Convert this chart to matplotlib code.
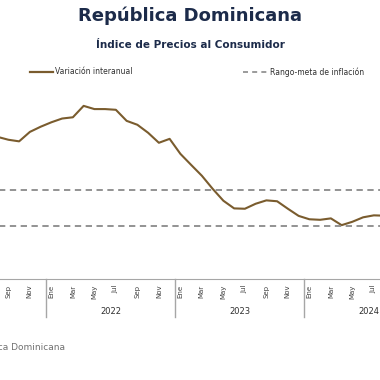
import matplotlib.pyplot as plt

# monthly interannual CPI change, Aug 2021 .. Aug 2024 (%)
MONTHS = ["Ago", "Sep", "Oct", "Nov", "Dic",
          "Ene", "Feb", "Mar", "Abr", "May", "Jun", "Jul", "Ago", "Sep", "Oct", "Nov", "Dic",
          "Ene", "Feb", "Mar", "Abr", "May", "Jun", "Jul", "Ago", "Sep", "Oct", "Nov", "Dic",
          "Ene", "Feb", "Mar", "Abr", "May", "Jun", "Jul", "Ago"]
INFLATION = [7.97, 7.81, 7.72, 8.25, 8.54,
             8.79, 9.00, 9.07, 9.71, 9.53, 9.53, 9.49, 8.87, 8.65, 8.20, 7.64, 7.86,
             7.02, 6.40, 5.79, 5.06, 4.39, 3.96, 3.94, 4.22, 4.41, 4.36, 3.94, 3.54,
             3.35, 3.32, 3.40, 3.02, 3.21, 3.46, 3.57, 3.55]
TARGET_LOW, TARGET_HIGH = 3.0, 5.0
YEARS = ["2022", "2023", "2024"]
# visible x tick labels, Sep 2021 .. Jul 2024 (every second month)
TICK_LABELS = ["Sep", "Nov",
               "Ene", "Mar", "May", "Jul", "Sep", "Nov",
               "Ene", "Mar", "May", "Jul", "Sep", "Nov",
               "Ene", "Mar", "May", "Jul"]

BROWN = "#7a5c2e"
NAVY = "#1c2b4a"
GRAY = "#8a8a8a"

FIRST = -5      # Aug 2021, month index relative to Ene 2022
FIRST_TICK = -4  # Sep 2021

fig = plt.figure(figsize=(3.8, 3.8), dpi=100)
W = 380.0
# axes spans Ene 2021 .. Dic 2024, partially outside the visible figure (cropped chart)
ax = fig.add_axes([-83 / W, 101 / W, 516 / W, 12 * 17.83 / W])
x = [FIRST + k + 0.5 for k in range(len(INFLATION))]
ax.plot(x, INFLATION, color=BROWN, lw=1.5, solid_joinstyle="round")
for v in (TARGET_HIGH, TARGET_LOW):
    ax.axhline(v, color=GRAY, lw=1.3, ls=(0, (3.5, 2.5)))
ax.set_xlim(-12, 36)
ax.set_ylim(0, 12)

for s in ["top", "right", "left"]:
    ax.spines[s].set_visible(False)
ax.spines["bottom"].set_color("#a6a6a6")
ax.set_yticks([])

ticks = [FIRST_TICK + 2 * k + 0.5 for k in range(len(TICK_LABELS))]
ax.set_xticks(ticks)
ax.set_xticklabels(TICK_LABELS, rotation=90, fontsize=5, color="#404040")
ax.tick_params(axis="x", length=0, pad=4)

tr = ax.get_xaxis_transform()
for y, yr in enumerate(YEARS):
    x0 = 12 * y
    ax.plot([x0, x0], [0, -0.178], transform=tr, color="#a6a6a6", lw=1, clip_on=False)
    ax.text(x0 + 6, -0.153, yr, transform=tr, ha="center", va="center",
            fontsize=6, color="#303030")
ax.plot([36, 36], [0, -0.178], transform=tr, color="#a6a6a6", lw=1, clip_on=False)

fig.text(0.5, 1 - 16 / W, "República Dominicana", ha="center", va="center",
         fontsize=13, fontweight="bold", color=NAVY)
fig.text(0.5, 1 - 45 / W, "Índice de Precios al Consumidor", ha="center", va="center",
         fontsize=7.5, fontweight="bold", color=NAVY)

# legend
ly = 1 - 72 / W
fig.add_artist(plt.Line2D([30 / W, 53 / W], [ly, ly], color=BROWN, lw=1.6))
fig.text(55 / W, ly, "Variación interanual", ha="left", va="center", fontsize=5.5, color="#303030")
fig.add_artist(plt.Line2D([243 / W, 269 / W], [ly, ly], color=GRAY, lw=1.2, ls=(0, (3, 2.5))))
fig.text(270 / W, ly, "Rango-meta de inflación", ha="left", va="center", fontsize=5.5, color="#303030")

# source note, cut at the left edge as in the reference
fig.text(65 / W, 1 - 347 / W, "Fuente: Banco Central de la República Dominicana",
         ha="right", va="center", fontsize=6.5, color="#707070")

fig.savefig("out.png", dpi=100)
